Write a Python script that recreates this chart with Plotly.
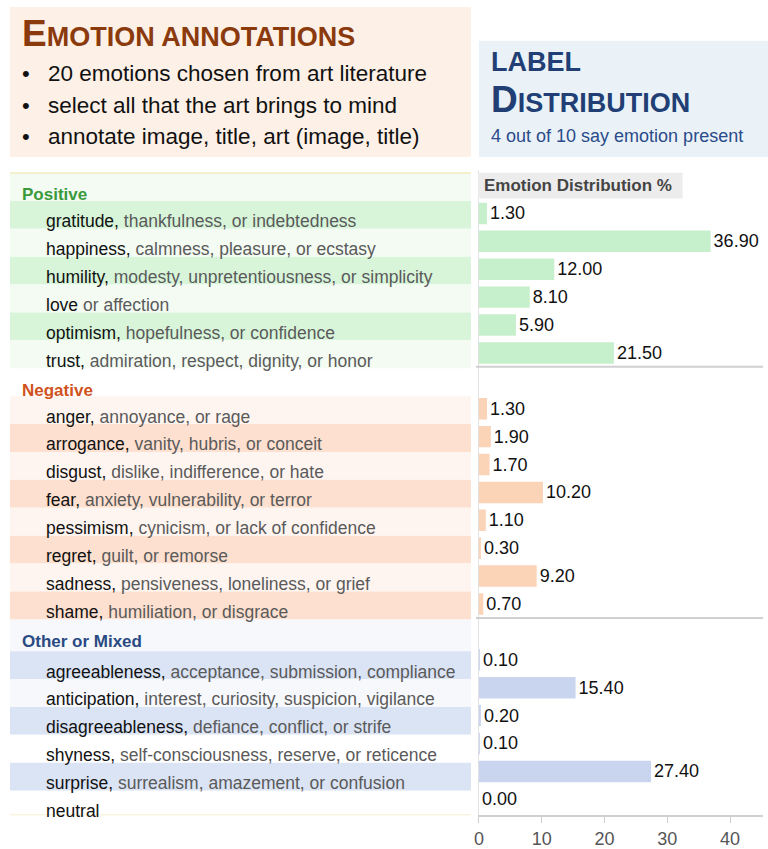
"""
Emotion annotations / label distribution panel.
"""

import plotly.graph_objects as go

W, H = 768, 849

# --- data -------------------------------------------------------------
groups = ["Positive", "Negative", "Other or Mixed"]
group_sizes = [6, 8, 6]

emotions = [
    "gratitude", "happiness", "humility", "love", "optimism", "trust",
    "anger", "arrogance", "disgust", "fear", "pessimism", "regret", "sadness", "shame",
    "agreeableness", "anticipation", "disagreeableness", "shyness", "surprise", "neutral",
]
synonyms = [
    "thankfulness, or indebtedness",
    "calmness, pleasure, or ecstasy",
    "modesty, unpretentiousness, or simplicity",
    "or affection",
    "hopefulness, or confidence",
    "admiration, respect, dignity, or honor",
    "annoyance, or rage",
    "vanity, hubris, or conceit",
    "dislike, indifference, or hate",
    "anxiety, vulnerability, or terror",
    "cynicism, or lack of confidence",
    "guilt, or remorse",
    "pensiveness, loneliness, or grief",
    "humiliation, or disgrace",
    "acceptance, submission, compliance",
    "interest, curiosity, suspicion, vigilance",
    "defiance, conflict, or strife",
    "self-consciousness, reserve, or reticence",
    "surrealism, amazement, or confusion",
    "",
]
shares = [1.3, 36.9, 12.0, 8.1, 5.9, 21.5,
          1.3, 1.9, 1.7, 10.2, 1.1, 0.3, 9.2, 0.7,
          0.1, 15.4, 0.2, 0.1, 27.4, 0.0]
x_ticks = [0, 10, 20, 30, 40]

bullets = [
    "20 emotions chosen from art literature",
    "select all that the art brings to mind",
    "annotate image, title, art (image, title)",
]

# --- style ------------------------------------------------------------
FONT = "Arial, Liberation Sans, sans-serif"
head_colors = ["#3a9a3c", "#d0521c", "#294a82"]
bar_colors = ["#c6efcc", "#fbd3b6", "#c9d5ee"]
band_dark = ["#d8f5da", "#fde0cf", "#dbe4f5"]
band_light = ["#f3fbf3", "#fff5f0", "#f6f8fc"]
head_band = ["#f3fbf3", "#ffffff", "#f6f8fc"]
# which rows in each group get the darker band
dark_rows = [[0, 2, 4], [1, 3, 5, 7], [0, 2, 4]]
white_rows = [[], [], [3, 5]]
# the left list sits a little lower than the bars, more so further down
text_shift = [0.28, 0.28, 0.42]
band_shift = [0.0, 0.0, 0.14]


def px(x):
    return x / W


def py(y):
    return 1 - y / H


# row positions: one blank/header row in front of each group
rows, group_of, header_rows = [], [], []
i = 0
for g, n in enumerate(group_sizes):
    header_rows.append(i + g - 1)
    for k in range(n):
        rows.append(i + g)
        group_of.append(g)
        i += 1

fig = go.Figure()

start = 0
for g, n in enumerate(group_sizes):
    fig.add_trace(go.Bar(
        x=shares[start:start + n],
        y=rows[start:start + n],
        orientation="h",
        width=0.77,
        marker=dict(color=bar_colors[g], line=dict(width=0)),
        texttemplate="%{x:.2f}",
        textposition="outside",
        textfont=dict(size=18, color="#111111", family=FONT),
        constraintext="none",
        cliponaxis=False,
        showlegend=False,
        hoverinfo="x+y",
    ))
    start += n

shapes = []
annotations = []

# top boxes
shapes.append(dict(type="rect", xref="paper", yref="paper",
                   x0=px(5), x1=px(469), y0=py(158), y1=py(7),
                   fillcolor="#fdf0e6", line=dict(width=0), layer="below"))
shapes.append(dict(type="rect", xref="paper", yref="paper",
                   x0=px(477), x1=px(768), y0=py(158), y1=py(41),
                   fillcolor="#eaf2f8", line=dict(width=0), layer="below"))

annotations.append(dict(
    text="<b><span style='font-size:37px'>E</span>MOTION ANNOTATIONS</b>",
    xref="paper", yref="paper", x=px(15), y=py(34), xanchor="left", yanchor="middle",
    showarrow=False, font=dict(size=27, color="#8a3a0c", family=FONT)))
for k, (b, yy) in enumerate(zip(bullets, [74, 106, 137])):
    annotations.append(dict(text="•", xref="paper", yref="paper", x=px(15), y=py(yy),
                            xanchor="left", yanchor="middle", showarrow=False,
                            font=dict(size=22, color="#111111", family=FONT)))
    annotations.append(dict(text=b, xref="paper", yref="paper", x=px(41), y=py(yy),
                            xanchor="left", yanchor="middle", showarrow=False,
                            font=dict(size=22.5, color="#111111", family=FONT)))

annotations.append(dict(
    text="<b>LABEL</b>", xref="paper", yref="paper", x=px(487), y=py(62),
    xanchor="left", yanchor="middle", showarrow=False,
    font=dict(size=27, color="#213f74", family=FONT)))
annotations.append(dict(
    text="<b><span style='font-size:37px'>D</span>ISTRIBUTION</b>",
    xref="paper", yref="paper", x=px(487), y=py(100),
    xanchor="left", yanchor="middle", showarrow=False,
    font=dict(size=27, color="#213f74", family=FONT)))
annotations.append(dict(
    text="4 out of 10 say emotion present", xref="paper", yref="paper",
    x=px(487), y=py(137), xanchor="left", yanchor="middle", showarrow=False,
    font=dict(size=18, color="#2b4b8a", family=FONT)))

# bar chart header
shapes.append(dict(type="rect", xref="paper", yref="paper",
                   x0=px(476), x1=px(682), y0=py(200), y1=py(174),
                   fillcolor="#ececec", line=dict(width=0), layer="above"))
annotations.append(dict(
    text="<b>Emotion Distribution %</b>", xref="paper", yref="paper",
    x=px(480), y=py(187), xanchor="left", yanchor="middle", showarrow=False,
    font=dict(size=17, color="#444444", family=FONT)))

# left list: bands, headers, labels
for g in range(len(groups)):
    hr = header_rows[g]
    shapes.append(dict(type="rect", xref="paper", yref="y",
                       x0=px(5), x1=px(469), y0=hr - 0.45, y1=hr + 0.55 + band_shift[g],
                       fillcolor=head_band[g], line=dict(width=0), layer="below"))
    annotations.append(dict(
        text="<b>%s</b>" % groups[g], xref="paper", yref="y", x=px(15), y=hr + 0.33,
        xanchor="left", yanchor="middle", showarrow=False,
        font=dict(size=17, color=head_colors[g], family=FONT)))

pos_in_group = []
for g, n in enumerate(group_sizes):
    pos_in_group += list(range(n))

for e, syn, r, g, k in zip(emotions, synonyms, rows, group_of, pos_in_group):
    if k in dark_rows[g]:
        fill = band_dark[g]
    elif k in white_rows[g]:
        fill = "#ffffff"
    else:
        fill = band_light[g]
    shapes.append(dict(type="rect", xref="paper", yref="y",
                       x0=px(5), x1=px(469),
                       y0=r - 0.45 + band_shift[g], y1=r + 0.55 + band_shift[g],
                       fillcolor=fill, line=dict(width=0), layer="below"))
    if syn == "":
        label = "<span style='color:#111111'>%s</span>" % e
    elif syn.startswith("or "):
        label = "<span style='color:#111111'>%s</span> <span style='color:#5a5a5a'>%s</span>" % (e, syn)
    else:
        label = "<span style='color:#111111'>%s,</span> <span style='color:#5a5a5a'>%s</span>" % (e, syn)
    annotations.append(dict(
        text=label, xref="paper", yref="y", x=px(39), y=r + text_shift[g],
        xanchor="left", yanchor="middle", showarrow=False,
        font=dict(size=17.5, family=FONT)))

# thin rules above and below the list
for yy in [-1.45, 21.57]:
    shapes.append(dict(type="line", xref="paper", yref="y",
                       x0=px(5), x1=px(469), y0=yy, y1=yy,
                       line=dict(color="#f1ecbd", width=1.5)))

# group separators in the bar chart
for yy in [5.5, 14.5]:
    shapes.append(dict(type="line", xref="paper", yref="y",
                       x0=px(474), x1=px(763), y0=yy, y1=yy,
                       line=dict(color="#d0d0d0", width=2)))

fig.update_layout(
    width=W,
    height=H,
    margin=dict(l=0, r=0, t=0, b=0),
    paper_bgcolor="white",
    plot_bgcolor="rgba(0,0,0,0)",
    font=dict(family=FONT),
    shapes=shapes,
    annotations=annotations,
    bargap=0.2,
    xaxis=dict(
        domain=[px(477), px(763)],
        range=[0, 45.25],
        tickvals=x_ticks,
        showgrid=False,
        zeroline=False,
        showline=True,
        linecolor="#d0d0d0",
        linewidth=2,
        ticks="outside",
        ticklen=6,
        tickcolor="#d0d0d0",
        tickfont=dict(size=18, color="#555555", family=FONT),
        fixedrange=True,
    ),
    yaxis=dict(
        domain=[py(821), py(171.4)],
        range=[21.57, -1.55],
        showticklabels=False,
        showgrid=False,
        zeroline=False,
        showline=True,
        linecolor="#e2e2e2",
        linewidth=1,
        ticks="",
        fixedrange=True,
    ),
)

# page body margin would push the fixed-size figure off the window
fig.write_html("out.html",
               config={"displayModeBar": False},
               post_script="document.body.style.margin='0';document.body.style.overflow='hidden';")
